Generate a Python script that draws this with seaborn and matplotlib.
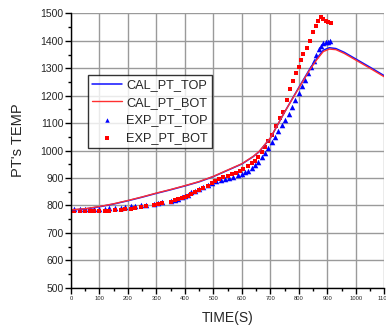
import numpy as np
import pandas as pd
import matplotlib
matplotlib.use("Agg")
import matplotlib.pyplot as plt
from matplotlib.ticker import MultipleLocator
import seaborn as sns

# calculated curves
cal_time = [0, 50, 100, 150, 200, 250, 300, 350, 400, 450, 500, 550, 600, 640, 660,
            680, 700, 750, 800, 840, 865, 886, 907, 930, 960, 1000, 1050, 1100]
cal_top = [783, 787, 795, 805, 817, 830, 844, 857, 871, 886, 905, 928, 951, 978, 995,
           1020, 1045, 1140, 1230, 1300, 1338, 1366, 1375, 1372, 1358, 1334, 1304, 1273]
cal_bot = [784, 788, 796, 806, 818, 831, 845, 858, 872, 887, 906, 929, 952, 979, 996,
           1021, 1046, 1140, 1228, 1297, 1334, 1361, 1370, 1368, 1354, 1330, 1300, 1269]

# experimental points
exp_top_time = [10, 30, 50, 65, 80, 100, 120, 135, 155, 175, 190, 210, 225, 245, 265,
                290, 305, 320, 350, 365, 375, 390, 400, 410, 420, 435, 450, 465, 480,
                495, 510, 525, 540, 555, 570, 585, 600, 612, 623, 635, 646, 658, 670,
                681, 693, 705, 717, 728, 740, 752, 764, 776, 788, 800, 811, 822, 833,
                843, 853, 862, 870, 878, 886, 896, 904, 910]
exp_top = [786, 786, 787, 788, 787, 787, 788, 789, 790, 792, 794, 796, 798, 801, 803,
           806, 810, 812, 816, 821, 825, 829, 834, 838, 848, 853, 860, 866, 873,
           882, 888, 893, 897, 901, 905, 910, 915, 920, 925, 935, 947, 959, 975,
           990, 1010, 1030, 1050, 1070, 1092, 1112, 1135, 1160, 1185, 1210, 1235, 1258, 1282,
           1305, 1328, 1350, 1370, 1382, 1391, 1397, 1397, 1400]

exp_bot_time = [10, 30, 50, 65, 80, 100, 120, 135, 155, 175, 190, 210, 225, 245, 265,
                290, 305, 320, 350, 365, 375, 390, 400, 410, 420, 435, 450, 465, 480,
                495, 505, 520, 535, 550, 565, 580, 595, 605, 620, 635, 645, 658, 670,
                681, 693, 705, 720, 735, 746, 758, 770, 779, 791, 800, 808, 816, 828,
                840, 851, 861, 869, 877, 886, 896, 904, 912]
exp_bot = [779, 778, 780, 781, 779, 779, 779, 780, 782, 785, 786, 788, 791, 795, 798,
           803, 806, 808, 813, 818, 822, 826, 832, 836, 841, 848, 855, 862, 870,
           880, 888, 895, 903, 909, 914, 919, 927, 932, 942, 953, 963, 977, 995,
           1014, 1035, 1056, 1088, 1117, 1141, 1184, 1223, 1253, 1283, 1305, 1329, 1352, 1375,
           1401, 1431, 1455, 1472, 1488, 1479, 1472, 1469, 1466]

sns.set_style("white")
plt.rcParams["font.family"] = ["Liberation Sans", "DejaVu Sans"]

fig = plt.figure(figsize=(3.86, 3.28), dpi=100)
ax = fig.add_axes([0.184, 0.123, 0.8114, 0.836])

sns.lineplot(x=cal_time, y=cal_top, ax=ax, color="#1010ff", lw=1.1, label="CAL_PT_TOP")
sns.lineplot(x=cal_time, y=cal_bot, ax=ax, color="#ff3030", lw=1.0, label="CAL_PT_BOT")
sns.scatterplot(x=exp_top_time, y=exp_top, ax=ax, color="#0000ff", marker="^", s=16,
                linewidth=0, label="EXP_PT_TOP")
sns.scatterplot(x=exp_bot_time, y=exp_bot, ax=ax, color="#ff0000", marker="s", s=11,
                linewidth=0, label="EXP_PT_BOT")

ax.set_xlim(0, 1100)
ax.set_ylim(500, 1500)
ax.xaxis.set_major_locator(MultipleLocator(100))
ax.xaxis.set_minor_locator(MultipleLocator(50))
ax.yaxis.set_major_locator(MultipleLocator(100))
ax.yaxis.set_minor_locator(MultipleLocator(50))
ax.grid(True, which="major", color="#9a9a9a", lw=1.0)
ax.set_axisbelow(True)

for s in ["top", "right"]:
    ax.spines[s].set_visible(False)
for s in ["left", "bottom"]:
    ax.spines[s].set_color("black")
    ax.spines[s].set_linewidth(1.0)

ax.tick_params(axis="both", which="major", direction="out", length=4, width=1, color="black")
ax.tick_params(axis="both", which="minor", direction="out", length=2.5, width=1, color="black")
ax.tick_params(axis="y", labelsize=7.5, pad=1.5)
ax.tick_params(axis="x", labelsize=4.2, pad=2)
ax.tick_params(bottom=True, left=True, which="both")

ax.set_xlabel("TIME(S)", fontsize=10, labelpad=7)
ax.set_ylabel("PT's TEMP", fontsize=10.5, labelpad=6)
ax.yaxis.set_label_coords(-0.148, 0.538)

leg = ax.legend(loc="upper left", bbox_to_anchor=(0.054, 0.775), borderaxespad=0,
                fontsize=9.2, frameon=True, fancybox=False, handlelength=2.4,
                labelspacing=0.45, borderpad=0.3, handletextpad=0.3,
                markerscale=0.8)
leg.get_frame().set_edgecolor("black")
leg.get_frame().set_linewidth(1.0)

fig.savefig("out.png", dpi=100)
